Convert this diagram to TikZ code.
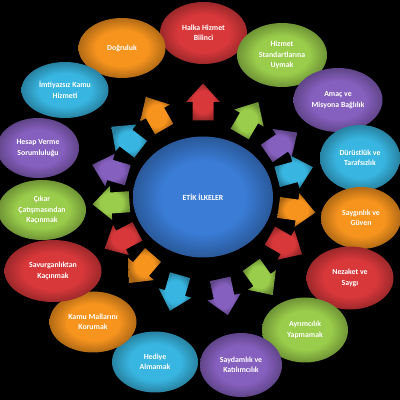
\documentclass[tikz,border=0pt]{standalone}
\usepackage{fontspec}
\setmainfont{Carlito}
\usetikzlibrary{shapes.geometric}
\definecolor{cred}{HTML}{D9383B}
\definecolor{corange}{HTML}{F7941E}
\definecolor{cgreen}{HTML}{9ACD4B}
\definecolor{cpurple}{HTML}{8660BF}
\definecolor{ccyan}{HTML}{38B5E0}
\definecolor{cblue}{HTML}{3A7CD6}
\colorlet{cin}{white}\colorlet{cout}{black}
\pgfdeclareradialshading[cin,cout]{flatrad}{\pgfpoint{0bp}{0bp}}{color(0bp)=(cin); color(15bp)=(cin); color(25bp)=(cout); color(50bp)=(cout)}
\tikzset{
  setcol/.code={\colorlet{cin}{#1}\colorlet{cout}{#1!72!black}},
  ell/.style={ellipse, inner sep=0pt, align=center, text=white,
    font=\fontsize{7.8}{10.5}\selectfont\bfseries, setcol=#1, shade, shading=flatrad},
  arr/.pic={\colorlet{cin}{#1}\colorlet{cout}{#1!70!black}
    \shade[shading=flatrad] (0,18.5) -- (17,0) -- (10.5,0) -- (10.5,-18.5) -- (-10.5,-18.5) -- (-10.5,0) -- (-17,0) -- cycle;},
}
\begin{document}
\begin{tikzpicture}[x=1pt,y=1pt]
\fill[black] (0,0) rectangle (400,400);
\useasboundingbox (0,0) rectangle (400,400);
% centre
\node[ell=cblue, minimum width=140pt, minimum height=121pt] (c) at (203,203) {ETİK İLKELER};
% arrows
\pic (a1) [rotate=0] at (203,298) {arr=cred};
\pic (a2) [rotate=-30.2] at (249,282) {arr=cgreen};
\pic (a3) [rotate=-55.6] at (282,257) {arr=cpurple};
\pic (a4) [rotate=-74.8] at (295,228) {arr=ccyan};
\pic (a5) [rotate=-97.9] at (297,190) {arr=corange};
\pic (a6) [rotate=-120] at (286,155) {arr=cred};
\pic (a7) [rotate=-144.6] at (262,120) {arr=cgreen};
\pic (a8) [rotate=-168] at (224,103) {arr=cpurple};
\pic (a9) [rotate=164] at (175,107) {arr=ccyan};
\pic (a10) [rotate=139.3] at (141,131) {arr=corange};
\pic (a11) [rotate=117.7] at (121,160) {arr=cred};
\pic (a12) [rotate=94] at (111,197) {arr=cgreen};
\pic (a13) [rotate=73.8] at (110,230) {arr=cpurple};
\pic (a14) [rotate=52.5] at (126,262) {arr=ccyan};
\pic (a15) [rotate=29.7] at (155,287) {arr=corange};
% ellipses
\node[ell=cred, minimum width=87pt, minimum height=62pt] (e1) at (203.5,367) {Halka Hizmet\\Bilinci};
\node[ell=cgreen, minimum width=90pt, minimum height=64pt] (e2) at (282,345) {Hizmet\\Standartlarına\\Uymak};
\node[ell=cpurple, minimum width=89pt, minimum height=64pt] (e3) at (338,300) {Amaç ve\\Misyona Bağlılık};
\node[ell=ccyan, minimum width=80pt, minimum height=66pt] (e4) at (360,242) {Dürüstlük ve\\Tarafsızlık};
\node[ell=corange, minimum width=80pt, minimum height=62pt] (e5) at (361,182) {Saygınlık ve\\Güven};
\node[ell=cred, minimum width=87pt, minimum height=63pt] (e6) at (350,122) {Nezaket ve\\Saygı};
\node[ell=cgreen, minimum width=86pt, minimum height=65pt] (e7) at (305,70) {Ayrımcılık\\Yapmamak};
\node[ell=cpurple, minimum width=82pt, minimum height=64pt] (e8) at (241,35) {Saydamlık ve\\Katılımcılık};
\node[ell=ccyan, minimum width=86pt, minimum height=61pt] (e9) at (155,38) {Hediye\\Almamak};
\node[ell=corange, minimum width=87pt, minimum height=61pt] (e10) at (93,78) {Kamu Mallarını\\Korumak};
\node[ell=cred, minimum width=97pt, minimum height=62pt] (e11) at (53,129) {Savurganlıktan\\Kaçınmak};
\node[ell=cgreen, minimum width=88pt, minimum height=60pt] (e12) at (42,190) {Çıkar\\Çatışmasından\\Kaçınmak};
\node[ell=cpurple, minimum width=82pt, minimum height=60pt] (e13) at (38,252) {Hesap Verme\\Sorumluluğu};
\node[ell=corange, minimum width=87pt, minimum height=60pt] (e15) at (122,352) {Doğruluk};
\node[ell=ccyan, minimum width=87pt, minimum height=56pt] (e14) at (65,310) {İmtiyazsız Kamu\\Hizmeti};
\end{tikzpicture}
\end{document}
